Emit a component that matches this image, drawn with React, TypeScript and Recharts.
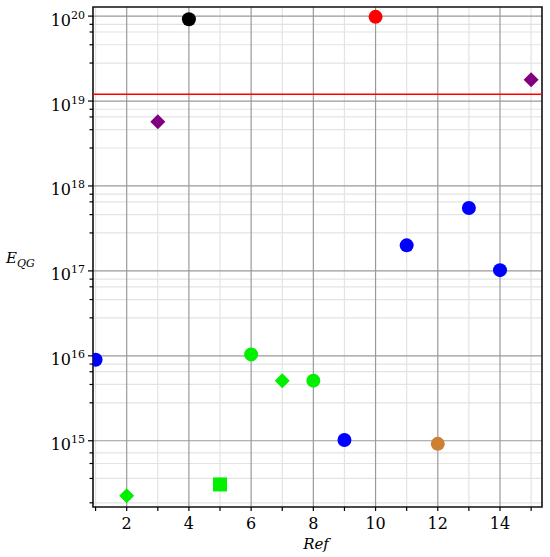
import React from 'react';
import {
  ScatterChart,
  Scatter,
  XAxis,
  YAxis,
  CartesianGrid,
  ReferenceLine,
  ReferenceArea,
} from 'recharts';

const FONT = '"DejaVu Serif", serif';

// points, grouped by marker
const blueRef = [1, 9, 11, 13, 14];
const blueE = [9.0e15, 1.02e15, 2.0e17, 5.5e17, 1.02e17];
const greenCircleRef = [6, 8];
const greenCircleE = [1.04e16, 5.1e15];
const greenDiamondRef = [2, 7];
const greenDiamondE = [2.25e14, 5.1e15];
const greenSquareRef = [5];
const greenSquareE = [3.06e14];
const purpleRef = [3, 15];
const purpleE = [5.7e18, 1.78e19];
const blackRef = [4];
const blackE = [9.2e19];
const redRef = [10];
const redE = [9.8e19];
const brownRef = [12];
const brownE = [9.2e14];
const planckE = 1.2e19;

// axes
const xDomain = [0.917, 15.35];
const yDomain = [1.66e14, 1.28e20];
const xTicks = [1, 2, 3, 4, 5, 6, 7, 8, 9, 10, 11, 12, 13, 14, 15];
const xMajor = [2, 4, 6, 8, 10, 12, 14];
const xMinor = [1, 3, 5, 7, 9, 11, 13, 15];
const yMajor = [1e15, 1e16, 1e17, 1e18, 1e19, 1e20];
const yMinor = [
  1.86e14, 3.6e14, 5.4e14, 7.2e14,
  2.8e15, 4.6e15, 6.5e15, 8e15,
  2.8e16, 4.6e16, 6.5e16, 8e16,
  2.8e17, 4.6e17, 6.5e17, 8e17,
  2.8e18, 4.6e18, 6.5e18, 8e18,
  2.8e19, 4.6e19, 6.5e19, 8e19,
];

const toPts = (refs: number[], vals: number[]) => refs.map((r, i) => ({ ref: r, e: vals[i] }));

const circle = (fill: string) => (p: any) => <circle cx={p.cx} cy={p.cy} r={7} fill={fill} />;
const diamond = (fill: string) => (p: any) => (
  <polygon
    points={`${p.cx},${p.cy - 7.5} ${p.cx + 7.5},${p.cy} ${p.cx},${p.cy + 7.5} ${p.cx - 7.5},${p.cy}`}
    fill={fill}
  />
);
const square = (fill: string) => (p: any) => <rect x={p.cx - 7} y={p.cy - 7} width={14} height={14} fill={fill} />;

const YTick = (props: any) => {
  const { x, y, payload } = props;
  const v = payload.value;
  const major = yMajor.includes(v);
  return (
    <g>
      <line x1={x - (major ? 5 : 3.5)} x2={x} y1={y} y2={y} stroke="#000" strokeWidth={1.2} />
      {major && (
        <text x={x - 8} y={y + 9.5} textAnchor="end" fontFamily={FONT} fontSize={16} fill="#000">
          10
          <tspan dy={-7} fontSize={11}>{Math.round(Math.log10(v))}</tspan>
        </text>
      )}
    </g>
  );
};

const XTick = (props: any) => {
  const { x, y, payload } = props;
  const v = payload.value;
  const major = xMajor.includes(v);
  return (
    <g>
      <line x1={x} x2={x} y1={y} y2={y + 4} stroke="#000" strokeWidth={1.2} />
      {major && (
        <text x={x} y={y + 22} textAnchor="middle" fontFamily={FONT} fontSize={16} fill="#000">
          {v}
        </text>
      )}
    </g>
  );
};

const App: React.FC = () => {
  return (
    <div style={{ position: 'absolute', left: 0, top: 0, width: 550, height: 557, background: '#fff' }}>
      <ScatterChart width={550} height={557} margin={{ top: 7, right: 8, left: 0, bottom: 0 }}>
        <CartesianGrid
          stroke="#e3e3e3"
          strokeWidth={1.2}
          horizontalValues={yMinor}
          verticalValues={xMinor}
        />
        <CartesianGrid
          stroke="#9a9a9a"
          strokeWidth={1.2}
          horizontalValues={yMajor}
          verticalValues={xMajor}
        />
        <XAxis
          type="number"
          dataKey="ref"
          domain={xDomain}
          allowDataOverflow
          ticks={xTicks}
          interval={0}
          tickSize={0}
          tickMargin={0}
          tickLine={false}
          tick={<XTick />}
          axisLine={false}
          height={50}
          label={{
            content: () => (
              <text x={316} y={549} textAnchor="middle" fontFamily={FONT} fontStyle="italic" fontSize={15} fill="#000">
                Ref
              </text>
            ),
          }}
        />
        <YAxis
          type="number"
          dataKey="e"
          scale="log"
          domain={yDomain}
          allowDataOverflow
          ticks={[...yMajor, ...yMinor]}
          interval={0}
          tickSize={0}
          tickMargin={0}
          tickLine={false}
          tick={<YTick />}
          axisLine={false}
          width={93}
          label={{
            content: () => (
              <text x={6} y={263} fontFamily={FONT} fontStyle="italic" fontSize={15} fill="#000">
                E
                <tspan dy={4} fontSize={11}>QG</tspan>
              </text>
            ),
          }}
        />
        <ReferenceLine y={planckE} stroke="#ff0000" strokeWidth={1.6} />
        <ReferenceArea
          x1={xDomain[0]}
          x2={xDomain[1]}
          y1={yDomain[0]}
          y2={yDomain[1]}
          fill="none"
          fillOpacity={0}
          stroke="#111"
          strokeWidth={1.6}
        />
        <Scatter data={toPts(blueRef, blueE)} shape={circle('#0000ff')} isAnimationActive={false} />
        <Scatter data={toPts(greenCircleRef, greenCircleE)} shape={circle('#00f000')} isAnimationActive={false} />
        <Scatter data={toPts(greenDiamondRef, greenDiamondE)} shape={diamond('#00f000')} isAnimationActive={false} />
        <Scatter data={toPts(greenSquareRef, greenSquareE)} shape={square('#00f000')} isAnimationActive={false} />
        <Scatter data={toPts(purpleRef, purpleE)} shape={diamond('#800080')} isAnimationActive={false} />
        <Scatter data={toPts(blackRef, blackE)} shape={circle('#000000')} isAnimationActive={false} />
        <Scatter data={toPts(redRef, redE)} shape={circle('#ff0000')} isAnimationActive={false} />
        <Scatter data={toPts(brownRef, brownE)} shape={circle('#cd7f32')} isAnimationActive={false} />
      </ScatterChart>
    </div>
  );
};

export default App;
